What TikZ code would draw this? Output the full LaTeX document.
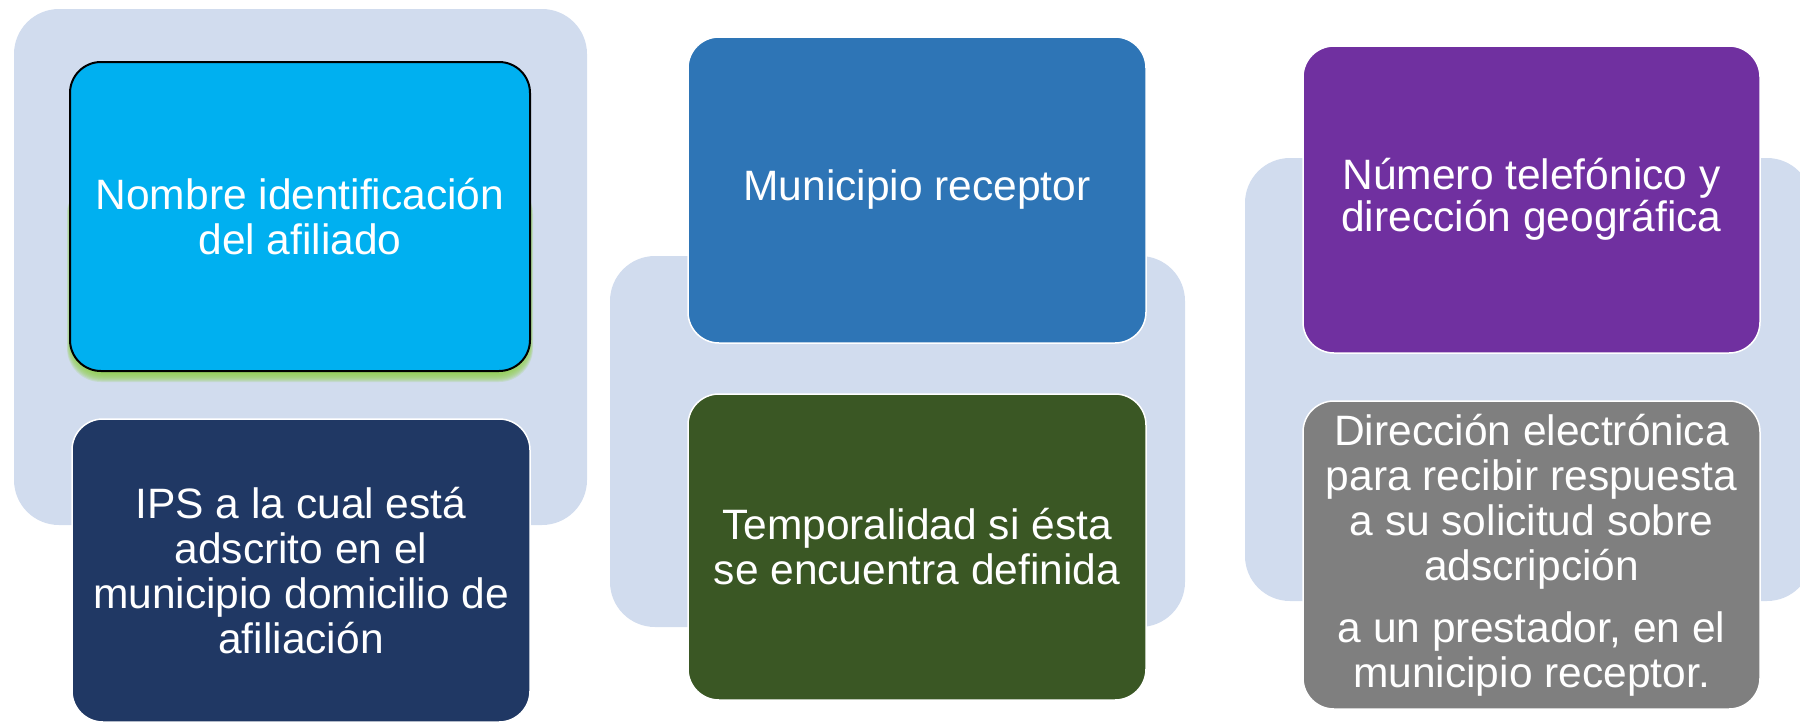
\documentclass[tikz,border=0pt]{standalone}
\usepackage{fontspec}
\setmainfont{Liberation Sans}
\definecolor{bgblue}{HTML}{D1DCEE}
\definecolor{cyanbox}{HTML}{00B0F0}
\definecolor{bluebox}{HTML}{2E75B6}
\definecolor{navybox}{HTML}{203864}
\definecolor{greenbox}{HTML}{3A5724}
\definecolor{purplebox}{HTML}{7030A0}
\definecolor{graybox}{HTML}{7F7F7F}
\definecolor{glowgreen}{HTML}{92D050}
\begin{document}
\begin{tikzpicture}[x=1pt,y=-1pt,
  bgpanel/.style={fill=bgblue, rounded corners=45pt, inner sep=0pt, draw=none},
  cardbox/.style={draw=white, line width=1.5pt, rounded corners=31pt, text=white,
    align=center, inner sep=0pt, font=\fontsize{42.5}{45}\selectfont},
]
\useasboundingbox (0,0) rectangle (1800,723);
\clip (0,0) rectangle (1800,723);
% background panels
\node[bgpanel, minimum width=573pt, minimum height=516pt] (bg1) at (300.5,267) {};
\node[bgpanel, minimum width=575pt, minimum height=371pt] (bg2) at (897.5,441.5) {};
\node[bgpanel, minimum width=567pt, minimum height=443pt] (bg3) at (1528.5,379.5) {};
% green glow under first card
\foreach \e in {1,...,10}{
  \fill[glowgreen, opacity=0.2, rounded corners=34pt] (72-0.5*\e,180) rectangle (528+0.5*\e,372+\e);
}
% cards
\node[cardbox, draw=black, line width=2pt, fill=cyanbox, minimum width=460pt, minimum height=309pt] (c1) at (300,216.5)
  {Nombre identificación\\del afiliado};
\node[cardbox, fill=navybox, minimum width=458pt, minimum height=303pt] (c2) at (301,570.5)
  {IPS a la cual está\\adscrito en el\\municipio domicilio de\\afiliación};
\node[cardbox, fill=bluebox, minimum width=458pt, minimum height=306pt] (c3) at (917,190)
  {Municipio receptor};
\node[cardbox, fill=greenbox, minimum width=458pt, minimum height=306pt] (c4) at (917,547)
  {Temporalidad si ésta\\se encuentra definida};
\node[cardbox, fill=purplebox, minimum width=457pt, minimum height=307pt,
  font=\fontsize{42.5}{42}\selectfont] (c5) at (1531.5,199.5)
  {Número telefónico y\\dirección geográfica};
\node[cardbox, fill=graybox, minimum width=457pt, minimum height=308pt] (c6) at (1531.5,555)
  {Dirección electrónica\\para recibir respuesta\\a su solicitud sobre\\adscripción\\[17pt]a un prestador, en el\\municipio receptor.};
\end{tikzpicture}
\end{document}
